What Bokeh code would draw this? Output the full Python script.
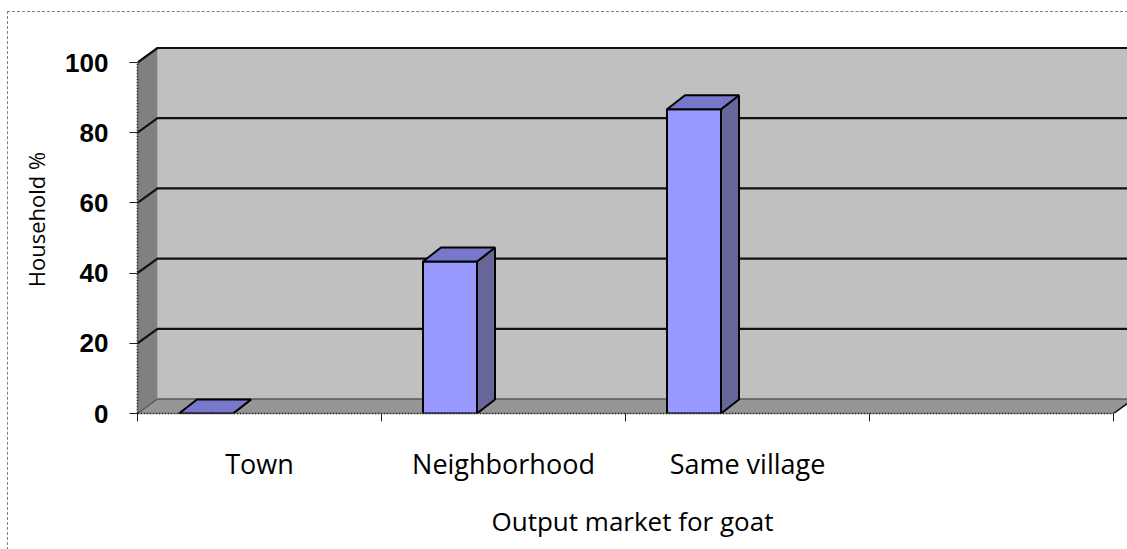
from bokeh.plotting import figure
from bokeh.models import Range1d, FixedTicker
from bokeh.embed import file_html
from bokeh.resources import INLINE

# ---- data ----
categories = ["Town", "Neighborhood", "Same village"]
household_pct = [0.0, 43.3, 86.7]
y_ticks = [0, 20, 40, 60, 80, 100]
n_slots = 4  # the category axis has 4 slots, last one empty

# ---- geometry (pixel constants) ----
W, H = 1119, 537
LEFT, TOP, BOTTOM = 129, 13, 136
PX_CAT = 244.0
PX_UNIT = 3.51
frame_w = W - LEFT
frame_h = H - TOP - BOTTOM
DX = 20 / PX_CAT
DY = 14.5 / PX_UNIT
BDX = 18 / PX_CAT
BDY = 14 / PX_UNIT
BAR_OFF = 41.5 / PX_CAT
BAR_W = 54 / PX_CAT
XEND = n_slots + 0.5

p = figure(width=W, height=H, output_backend="svg", toolbar_location=None,
           x_range=Range1d(0, frame_w / PX_CAT), y_range=Range1d(0, frame_h / PX_UNIT),
           min_border_left=LEFT, min_border_right=0, min_border_top=TOP,
           min_border_bottom=BOTTOM, margin=(12, 0, 0, 8))
p.styles = {"outline": "1px dashed #808080"}
p.outline_line_color = None
p.xgrid.visible = False
p.ygrid.visible = False
p.background_fill_color = "white"
p.border_fill_color = "white"

top_v = max(y_ticks)
# back wall
p.patch([DX, XEND, XEND, DX], [DY, DY, top_v + DY, top_v + DY],
        fill_color="#C0C0C0", line_color=None)
# left wall
p.patch([0, 0, DX, DX], [0, top_v, top_v + DY, DY],
        fill_color="#808080", line_color=None)
# floor
p.patch([0, n_slots, n_slots + DX, XEND, DX], [0, 0, DY, DY, DY],
        fill_color="#969696", line_color=None)
p.line([n_slots, n_slots + DX], [0, DY], line_color="#111111", line_width=1.5)

# gridlines on left wall + back wall
gx, gy, gc, gw = [], [], [], []
for v in y_ticks:
    gx.append([0, DX, XEND])
    gy.append([v, v + DY, v + DY])
    gc.append("#5a5a5a" if v == 0 else "#111111")
    gw.append(1.5 if v == 0 else 2.2)
p.multi_line(xs=gx, ys=gy, line_color=gc, line_width=gw)

# bars
lefts = [i + BAR_OFF for i in range(len(household_pct))]
rights = [l + BAR_W for l in lefts]
side_x = [[r, r + BDX, r + BDX, r] for r in rights]
side_y = [[0, BDY, v + BDY, v] for v in household_pct]
top_x = [[l, r, r + BDX, l + BDX] for l, r in zip(lefts, rights)]
top_y = [[v, v, v + BDY, v + BDY] for v in household_pct]
p.patches(side_x, side_y, fill_color="#666699", line_color="black", line_width=2)
p.quad(left=lefts, right=rights, bottom=0, top=household_pct,
       fill_color="#9999FF", line_color="black", line_width=2)
p.patches(top_x, top_y, fill_color="#7777CC", line_color="black", line_width=2)

# y axis
ya = p.yaxis[0]
ya.ticker = FixedTicker(ticks=y_ticks)
ya.bounds = (0, top_v)
ya.axis_line_color = "#222222"
ya.axis_line_dash = "2 1"
ya.axis_line_width = 1.5
ya.major_tick_out = 8
ya.major_tick_in = 0
ya.major_tick_line_color = "#222222"
ya.minor_tick_line_color = None
ya.major_label_text_font = "Liberation Sans"
ya.major_label_text_font_style = "bold"
ya.major_label_text_font_size = "26px"
ya.major_label_text_color = "black"
ya.major_label_standoff = 21
ya.axis_label = "Household %"
ya.axis_label_text_font = "Open Sans"
ya.axis_label_text_font_style = "normal"
ya.axis_label_text_font_size = "22px"
ya.axis_label_text_color = "black"
ya.axis_label_standoff = 11

# x axis
xa = p.xaxis[0]
centers = [i + 0.5 for i in range(len(categories))]
xa.ticker = FixedTicker(ticks=centers, minor_ticks=list(range(n_slots + 1)))
xa.major_label_overrides = {c: name for c, name in zip(centers, categories)}
xa.bounds = (0, n_slots)
xa.axis_line_color = "#222222"
xa.axis_line_dash = "2 1"
xa.axis_line_width = 1.5
xa.major_tick_line_color = None
xa.major_tick_out = 0
xa.major_tick_in = 0
xa.minor_tick_out = 8
xa.minor_tick_in = 0
xa.minor_tick_line_color = "#222222"
xa.major_label_text_font = "Open Sans"
xa.major_label_text_font_size = "27px"
xa.major_label_text_color = "black"
xa.major_label_standoff = 23
xa.axis_label = "Output market for goat"
xa.axis_label_text_font = "Open Sans"
xa.axis_label_text_font_style = "normal"
xa.axis_label_text_font_size = "26px"
xa.axis_label_text_color = "black"
xa.axis_label_standoff = 18

open("out.html", "w").write(file_html(p, INLINE))
